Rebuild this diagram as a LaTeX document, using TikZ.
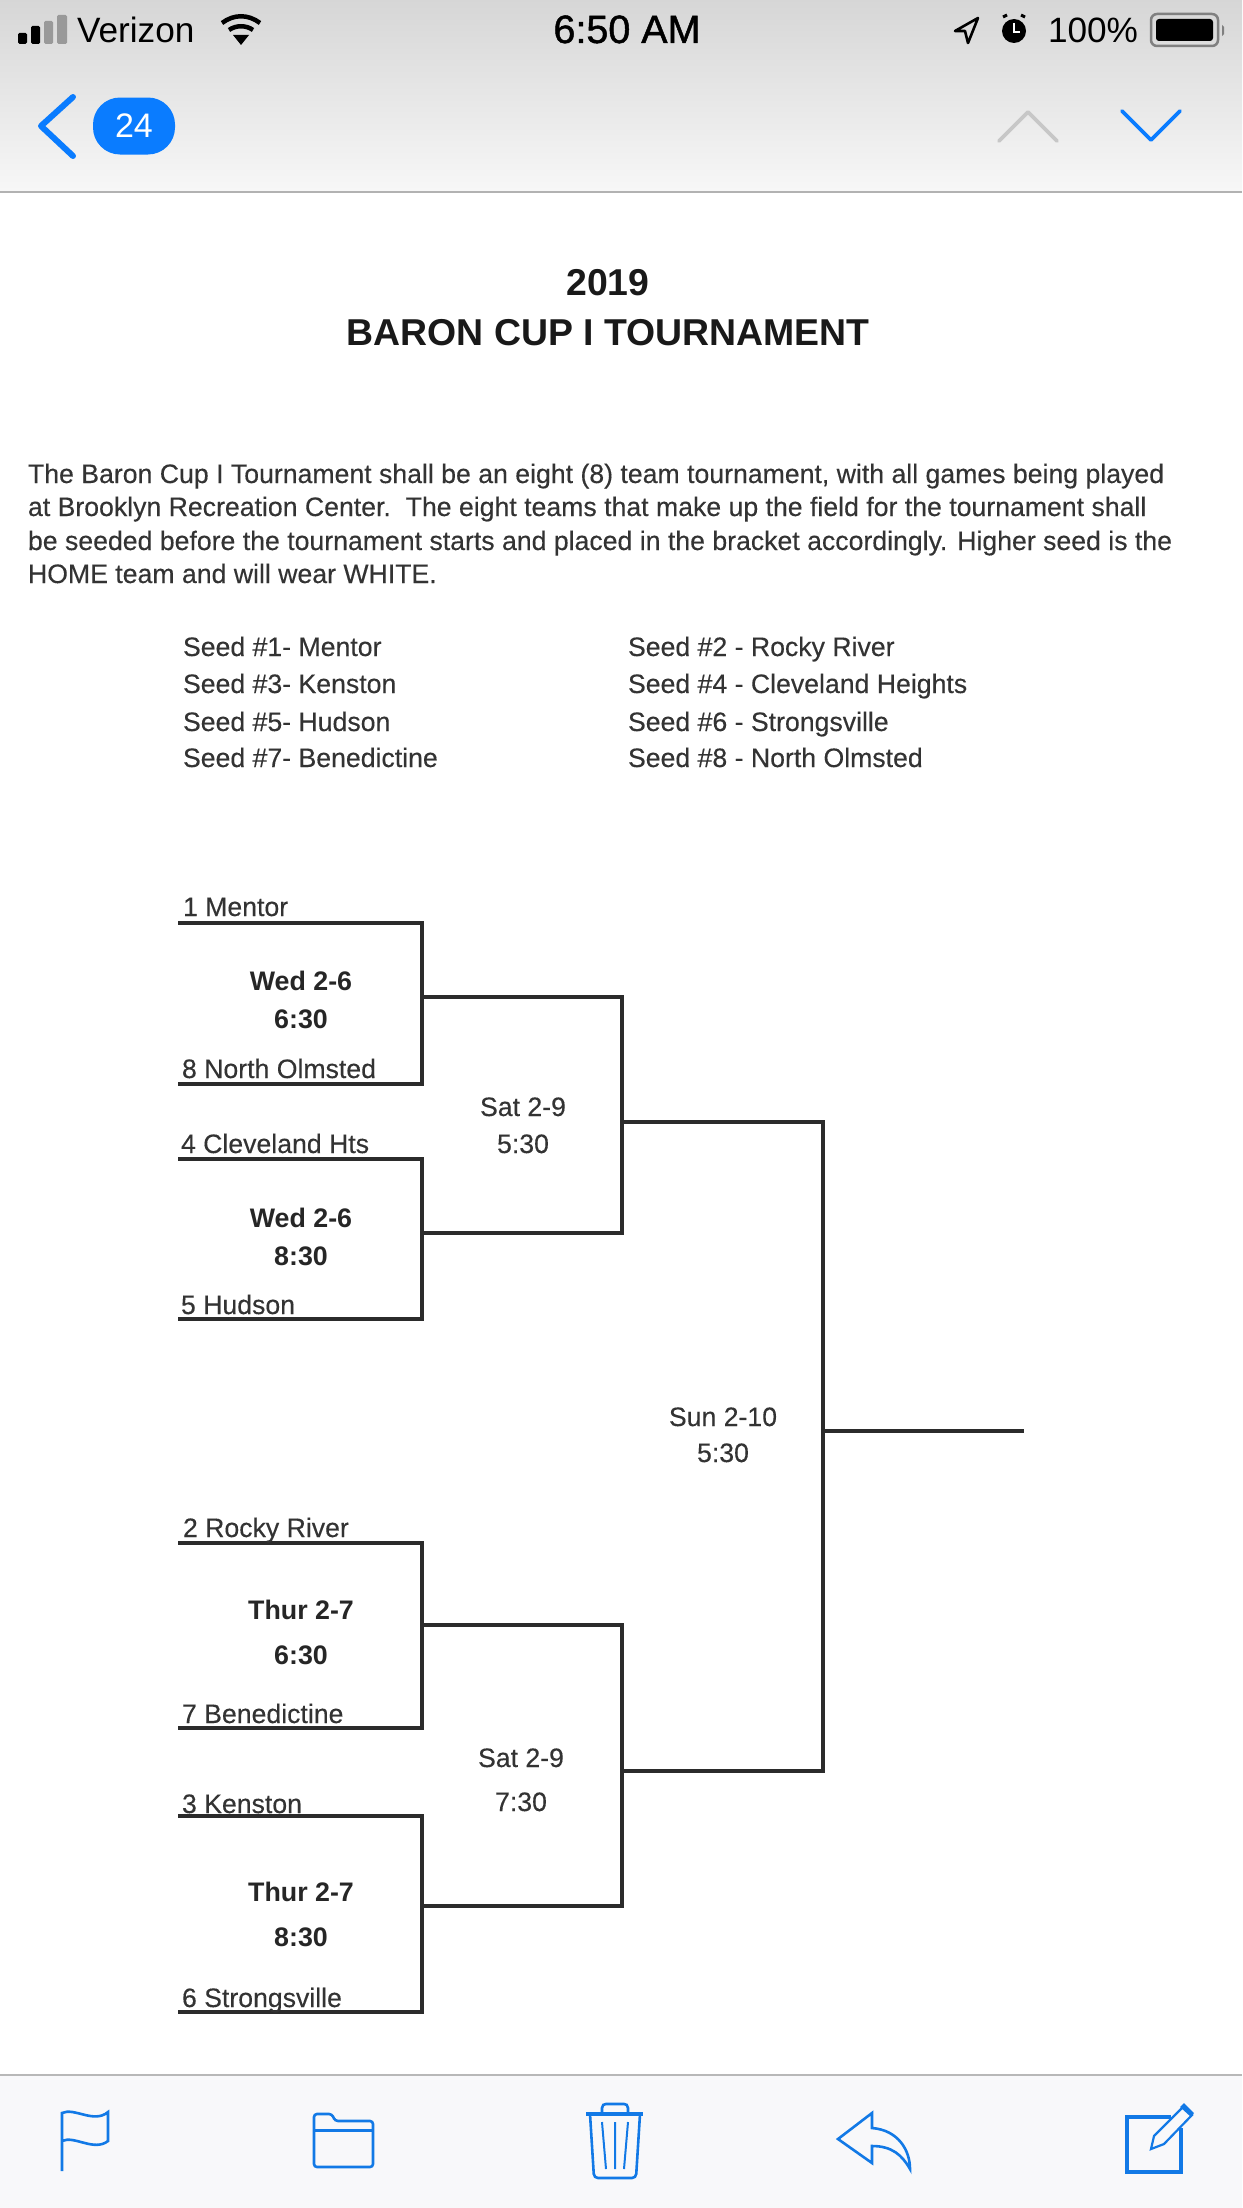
\documentclass[tikz,border=0pt]{standalone}
\usepackage{fontspec}
\setmainfont{Liberation Sans}
\newfontfamily\medfont[FakeBold=1.2]{Liberation Sans}
\newfontfamily\docfont[FakeBold=0.25]{Liberation Sans}
\definecolor{iosblue}{HTML}{0A7CFF}
\definecolor{tbblue}{HTML}{1279E6}
\definecolor{doc}{HTML}{333333}
\definecolor{brk}{HTML}{2B2B2B}
\tikzset{
  txt/.style={inner sep=0pt,outer sep=0pt,anchor=base west,text=doc,font=\fontsize{26.65}{26.65}\docfont},
  ctr/.style={txt,anchor=base},
  bld/.style={ctr,text=black!85,font=\fontsize{26.8}{26.8}\selectfont\bfseries},
  ttl/.style={ctr,text=black!90,font=\fontsize{37.4}{37.4}\selectfont\bfseries},
  bar/.style={inner sep=0pt,outer sep=0pt},
  brline/.style={draw=brk,line width=3.2pt,line cap=rect},
  status/.style={inner sep=0pt,outer sep=0pt,text=black,anchor=base west,font=\fontsize{35.2}{35.2}\selectfont},
  tool/.style={draw=tbblue,line width=2.6pt,fill=none},
}
\begin{document}
\begin{tikzpicture}[x=1pt,y=-1pt]
\useasboundingbox (0,0) rectangle (1242,2208);
\fill[white] (0,0) rectangle (1242,2208);
% header
\shade[top color=black!16,bottom color=black!3] (0,0) rectangle (1242,192);
\draw[draw=black!30,line width=2pt] (0,192) -- (1242,192);
% toolbar
\fill[fill={rgb,255:red,248;green,248;blue,250}] (0,2075) rectangle (1242,2208);
\draw[draw=black!28,line width=2pt] (0,2075) -- (1242,2075);
% signal
\fill[black,rounded corners=1.5pt] (18,33) rectangle (27,44);
\fill[black,rounded corners=1.5pt] (31,26) rectangle (40,44);
\fill[black!40,rounded corners=1.5pt] (44,21) rectangle (53,44);
\fill[black!40,rounded corners=1.5pt] (57,15) rectangle (67,44);
\node[status] (carrier) at (77,43) {Verizon};
% wifi
\fill[black] (241,45) -- (233,35) -- (249,35) -- cycle;
\draw[black,line width=4.5pt] (229,30) .. controls (236,25) and (246,25) .. (253,30);
\draw[black,line width=4.5pt] (222,23) .. controls (234,14) and (248,14) .. (260,23);
\node[status,font=\fontsize{39.5}{39.5}\medfont,anchor=base] (clock) at (627,43) {6:50 AM};
% location
\draw[black,line width=2.6pt,line join=round] (978,18) -- (955,31) -- (965,31) -- (968,43) -- cycle;
% alarm
\fill[black] (1014,31) circle (12);
\draw[white,line width=2pt] (1014,23) -- (1014,32) -- (1020,32);
\draw[black,line width=3pt] (1003,17) -- (1007,15);
\draw[black,line width=3pt] (1025,17) -- (1021,15);
\node[status] (batt) at (1048,43) {100\%};
% battery
\draw[black!50,line width=2.5pt,rounded corners=6pt] (1151,14) rectangle (1218,46);
\fill[black,rounded corners=3pt] (1156,19) rectangle (1213,41);
\fill[black!50] (1222,25) -- (1224,27) -- (1224,34) -- (1222,36) -- cycle;
% nav
\draw[iosblue,line width=6pt,line cap=round,line join=round] (73,97) -- (41,126) -- (73,156);
\node[bar,fill=iosblue,rounded corners=27pt,minimum width=82pt,minimum height=57pt,text=white,font=\fontsize{34}{34}\selectfont] (badge) at (134,126) {24};
\draw[black!22,line width=3.6pt,line cap=round,line join=round] (999,141) -- (1028,112) -- (1057,141);
\draw[iosblue,line width=3.6pt,line cap=round,line join=round] (1122,111) -- (1151,140) -- (1180,111);
% title
\node[ttl] (t1) at (608,295) {2019};
\node[ttl] (t2) at (608,345) {BARON CUP I TOURNAMENT};
% paragraph
\node[txt] (p1) at (28,483) {The Baron Cup I Tournament shall be an eight (8) team tournament, with all games being played};
\node[txt] (p2) at (28,516) {at Brooklyn Recreation Center.\ \ The eight teams that make up the field for the tournament shall};
\node[txt] (p3) at (28,550) {be seeded before the tournament starts and placed in the bracket accordingly. Higher seed is the};
\node[txt] (p4) at (28,583) {HOME team and will wear WHITE.};
% seeds
\node[txt] (s1) at (183,656) {Seed \#1- Mentor};
\node[txt] (s3) at (183,693) {Seed \#3- Kenston};
\node[txt] (s5) at (183,731) {Seed \#5- Hudson};
\node[txt] (s7) at (183,767) {Seed \#7- Benedictine};
\node[txt] (s2) at (628,656) {Seed \#2 - Rocky River};
\node[txt] (s4) at (628,693) {Seed \#4 - Cleveland Heights};
\node[txt] (s6) at (628,731) {Seed \#6 - Strongsville};
\node[txt] (s8) at (628,767) {Seed \#8 - North Olmsted};
% bracket coordinates
\coordinate (a1) at (180,923); \coordinate (a1r) at (422,923);
\coordinate (a8) at (180,1084); \coordinate (a8r) at (422,1084);
\coordinate (a4) at (180,1159); \coordinate (a4r) at (422,1159);
\coordinate (a5) at (180,1319); \coordinate (a5r) at (422,1319);
\coordinate (b1) at (180,1543); \coordinate (b1r) at (422,1543);
\coordinate (b7) at (180,1728); \coordinate (b7r) at (422,1728);
\coordinate (b3) at (180,1816); \coordinate (b3r) at (422,1816);
\coordinate (b6) at (180,2012); \coordinate (b6r) at (422,2012);
\coordinate (m1) at (422,997); \coordinate (m1r) at (622,997);
\coordinate (m2) at (422,1233); \coordinate (m2r) at (622,1233);
\coordinate (m3) at (422,1625); \coordinate (m3r) at (622,1625);
\coordinate (m4) at (422,1906); \coordinate (m4r) at (622,1906);
\coordinate (f1) at (622,1122); \coordinate (f1r) at (823,1122);
\coordinate (f2) at (622,1771); \coordinate (f2r) at (823,1771);
\coordinate (w) at (823,1431); \coordinate (wr) at (1022,1431);
\draw[brline] (a1) -- (a1r) -- (a8r) -- (a8);
\draw[brline] (a4) -- (a4r) -- (a5r) -- (a5);
\draw[brline] (b1) -- (b1r) -- (b7r) -- (b7);
\draw[brline] (b3) -- (b3r) -- (b6r) -- (b6);
\draw[brline] (m1) -- (m1r) -- (m2r) -- (m2);
\draw[brline] (m3) -- (m3r) -- (m4r) -- (m4);
\draw[brline] (f1) -- (f1r) -- (f2r) -- (f2);
\draw[brline] (w) -- (wr);
% bracket labels
\node[txt] (n1) at (183,916) {1 Mentor};
\node[txt] (n8) at (182,1078) {8 North Olmsted};
\node[txt] (n4) at (181,1153) {4 Cleveland Hts};
\node[txt] (n5) at (181,1314) {5 Hudson};
\node[txt] (n2) at (183,1537) {2 Rocky River};
\node[txt] (n7) at (182,1723) {7 Benedictine};
\node[txt] (n3) at (182,1813) {3 Kenston};
\node[txt] (n6) at (182,2007) {6 Strongsville};
\node[bld] (g1) at (301,990) {Wed 2-6};
\node[bld] (g1t) at (301,1028) {6:30};
\node[bld] (g2) at (301,1227) {Wed 2-6};
\node[bld] (g2t) at (301,1265) {8:30};
\node[bld] (g3) at (301,1619) {Thur 2-7};
\node[bld] (g3t) at (301,1664) {6:30};
\node[bld] (g4) at (301,1901) {Thur 2-7};
\node[bld] (g4t) at (301,1946) {8:30};
\node[ctr] (h1) at (523,1116) {Sat 2-9};
\node[ctr] (h1t) at (523,1153) {5:30};
\node[ctr] (h2) at (521,1767) {Sat 2-9};
\node[ctr] (h2t) at (521,1811) {7:30};
\node[ctr] (k) at (723,1426) {Sun 2-10};
\node[ctr] (kt) at (723,1462) {5:30};
% toolbar icons
\draw[tool] (62,2171) -- (62,2113) .. controls (74,2107) and (94,2124) .. (108,2112) -- (108,2141) .. controls (94,2152) and (74,2135) .. (62,2141);
\draw[tool,rounded corners=3pt] (314,2167) -- (314,2114) -- (332,2114) -- (335,2121) -- (373,2121) -- (373,2167) -- cycle;
\draw[tool,line width=3pt] (314,2130) -- (373,2130);
\draw[tool,line width=3.2pt] (586,2114) -- (643,2114);
\draw[tool] (602,2114) -- (602,2108) .. controls (602,2105) and (604,2104) .. (606,2104) -- (624,2104) .. controls (626,2104) and (628,2105) .. (628,2108) -- (628,2114);
\draw[tool,rounded corners=4pt] (590,2114) -- (594,2178) -- (636,2178) -- (640,2114);
\draw[tool,line width=2pt] (602,2122) -- (606,2169) (615,2122) -- (615,2169) (628,2122) -- (624,2169);
\draw[tool,line join=miter] (838,2139) -- (872,2113) -- (872,2128) .. controls (898,2130) and (910,2150) .. (910,2169) .. controls (902,2155) and (892,2146) .. (872,2146) -- (872,2163) -- cycle;
\draw[tool,line width=3.4pt] (1171,2117) -- (1127,2117) -- (1127,2172) -- (1181,2172) -- (1181,2128);
\draw[tool,line join=miter,line width=2.2pt] (1151,2149) -- (1154,2136) -- (1183,2107) -- (1192,2115) -- (1164,2144) -- cycle;
\fill[tbblue] (1184,2103) -- (1194,2113) -- (1191,2117) -- (1180,2107) -- cycle;
\end{tikzpicture}
\end{document}
